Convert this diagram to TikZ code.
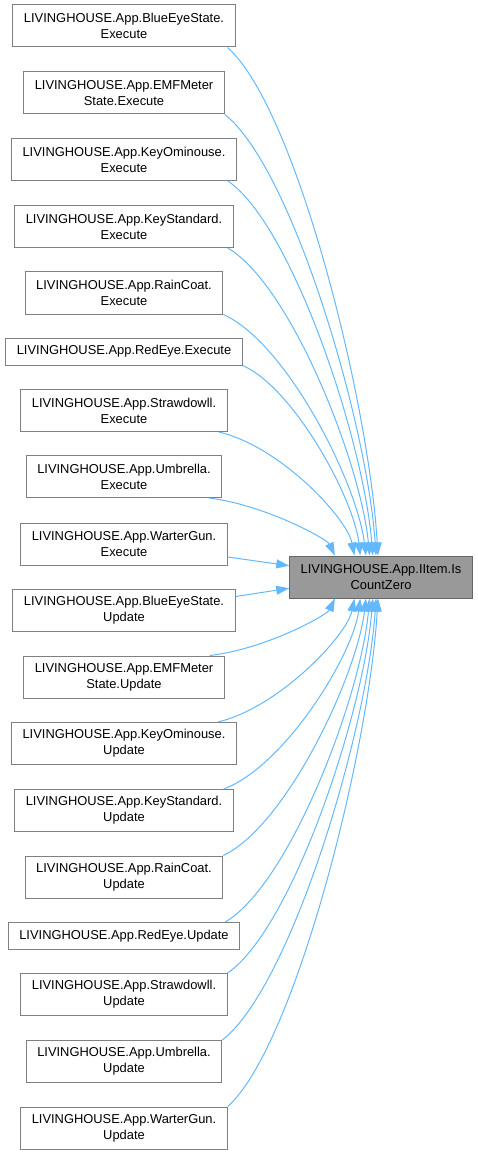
\documentclass[tikz,border=0pt]{standalone}
\usepackage{fontspec}
\setmainfont{Liberation Sans}
\usetikzlibrary{arrows.meta}

\definecolor{edgeblue}{HTML}{63B8FF}
\definecolor{boxline}{HTML}{808080}
\definecolor{rootline}{HTML}{666666}
\definecolor{rootfill}{HTML}{999999}

\begin{document}
\begin{tikzpicture}[x=1pt, y=-1pt,
  caller/.style={draw=boxline, fill=white, line width=1pt, align=center,
    inner xsep=11pt, inner ysep=2pt, minimum height=42pt,
    font=\fontsize{12.9}{16}\selectfont},
  oneline/.style={minimum height=27pt},
  root/.style={caller, draw=rootline, fill=rootfill},
  call/.style={draw=edgeblue, line width=1pt, -{Triangle[length=13pt,width=9pt]}}]
\useasboundingbox (0,0) rectangle (477,1155);

% Callers (Execute)
\node[caller] (e1) at (124,26) {LIVINGHOUSE.App.BlueEyeState.\\Execute};
\node[caller] (e2) at (124,93) {LIVINGHOUSE.App.EMFMeter\\State.Execute};
\node[caller] (e3) at (124,159.5) {LIVINGHOUSE.App.KeyOminouse.\\Execute};
\node[caller] (e4) at (124,226.5) {LIVINGHOUSE.App.KeyStandard.\\Execute};
\node[caller] (e5) at (124,293) {LIVINGHOUSE.App.RainCoat.\\Execute};
\node[caller, oneline] (e6) at (124,351.5) {LIVINGHOUSE.App.RedEye.Execute};
\node[caller] (e7) at (124,410.5) {LIVINGHOUSE.App.Strawdowll.\\Execute};
\node[caller] (e8) at (124,476.5) {LIVINGHOUSE.App.Umbrella.\\Execute};
\node[caller] (e9) at (124,544) {LIVINGHOUSE.App.WarterGun.\\Execute};

% Callers (Update)
\node[caller] (u1) at (124,610.5) {LIVINGHOUSE.App.BlueEyeState.\\Update};
\node[caller] (u2) at (124,677) {LIVINGHOUSE.App.EMFMeter\\State.Update};
\node[caller] (u3) at (124,743.5) {LIVINGHOUSE.App.KeyOminouse.\\Update};
\node[caller] (u4) at (124,810.5) {LIVINGHOUSE.App.KeyStandard.\\Update};
\node[caller] (u5) at (124,877) {LIVINGHOUSE.App.RainCoat.\\Update};
\node[caller, oneline] (u6) at (124,936) {LIVINGHOUSE.App.RedEye.Update};
\node[caller] (u7) at (124,994.5) {LIVINGHOUSE.App.Strawdowll.\\Update};
\node[caller] (u8) at (124,1061.5) {LIVINGHOUSE.App.Umbrella.\\Update};
\node[caller] (u9) at (124,1128) {LIVINGHOUSE.App.WarterGun.\\Update};

% Called function
\node[root] (item) at (381,577) {LIVINGHOUSE.App.IItem.Is\\CountZero};

% Edges from the Execute callers
\draw[call] ([xshift=-8pt]e1.south east) .. controls (296,108) and (369,402) .. (item.98);
\draw[call] (e2.south east) .. controls (292,167) and (367,423) .. (item.103);
\draw[call] ([xshift=-9pt]e3.south east) .. controls (293,226) and (364,443) .. (item.111);
\draw[call] ([xshift=-6pt]e4.south east) .. controls (291,285) and (361,464) .. (item.118);
\draw[call] (e5.south east) .. controls (287,343) and (357,483) .. (item.125);
\draw[call] (e6.south east) .. controls (294,388) and (354,499) .. (item.134);
\draw[call] ([xshift=-9pt]e7.south east) .. controls (280,446) and (347,518) .. (item.141);
\draw[call] ([xshift=-13pt]e8.south east) .. controls (265,505) and (327,539) .. (item.155);
\draw[call] ([yshift=-13pt]e9.east) -- (item.173);

% Edges from the Update callers
\draw[call] ([yshift=14pt]u1.east) -- (item.187);
\draw[call] ([xshift=-15pt]u2.north east) .. controls (266,649) and (327,615) .. (item.-155);
\draw[call] ([xshift=-19pt]u3.north east) .. controls (280,707) and (347,635) .. (item.-141);
\draw[call] ([xshift=-10pt]u4.north east) .. controls (285,766) and (353,655) .. (item.-134);
\draw[call] (u5.north east) .. controls (287,825) and (357,675) .. (item.-125);
\draw[call] ([xshift=-15pt]u6.north east) .. controls (290,884) and (361,696) .. (item.-118);
\draw[call] (u7.north east) .. controls (293,928) and (364,710) .. (item.-111);
\draw[call] (u8.north east) .. controls (291,987) and (367,731) .. (item.-103);
\draw[call] (u9.north east) .. controls (295,1046) and (369,751) .. (item.-98);

\end{tikzpicture}
\end{document}
